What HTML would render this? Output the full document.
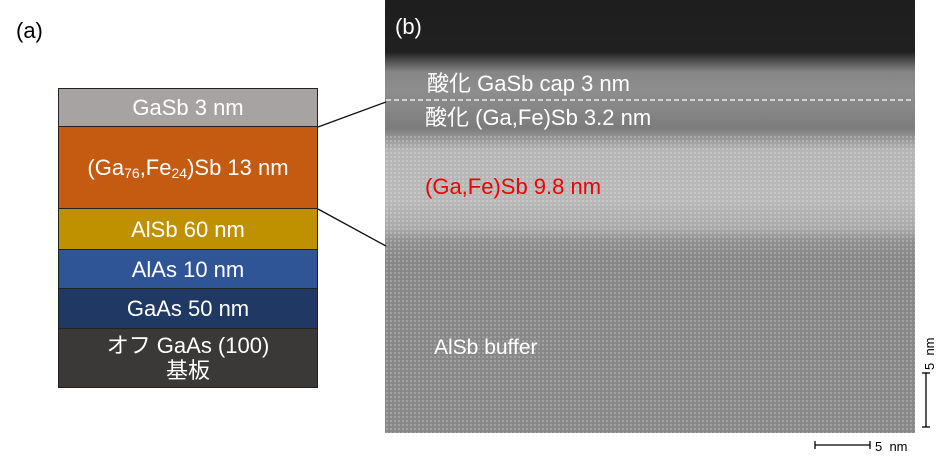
<!DOCTYPE html>
<html><head><meta charset="utf-8"><style>
body{margin:0;width:942px;height:458px;background:#fff;position:relative;overflow:hidden;font-family:"Liberation Sans","Noto Sans CJK JP",sans-serif}
.a{position:absolute;white-space:nowrap}
.l{position:absolute;left:58px;width:260px;box-sizing:border-box;border:1px solid #222;color:#fff;font-size:22px;text-align:center;display:flex;align-items:center;justify-content:center;line-height:25px}
.s{font-size:14px;position:relative;top:6px}
#img{position:absolute;left:385px;top:0;width:530px;height:433px;
background:linear-gradient(to bottom,#1e1e1e 0,#202020 52px,#555 62px,#858585 72px,#8e8e8e 90px,#868686 110px,#7c7c7c 128px,#9a9a9a 140px,#b5b5b5 150px,#b8b8b8 200px,#aaa 228px,#8f8f8f 242px,#878787 260px,#888 433px);overflow:hidden}
#lat{position:absolute;left:0;top:135px;width:530px;height:298px;opacity:.25;
background-image:radial-gradient(circle,#fff 0.9px,transparent 1.3px);background-size:4px 4px}
.w{color:#fff;font-size:22px;line-height:26px}
</style></head><body>
<div class="a" style="left:16px;top:18px;font-size:22px">(a)</div>
<div class="l" style="top:88px;height:39px;background:#a7a3a3">GaSb 3 nm</div>
<div class="l" style="top:126px;height:83px;background:#c55a11">(Ga<span class="s">76</span>,Fe<span class="s">24</span>)Sb 13 nm</div>
<div class="l" style="top:208px;height:42px;background:#bf9000">AlSb 60 nm</div>
<div class="l" style="top:249px;height:40px;background:#2f5597">AlAs 10 nm</div>
<div class="l" style="top:288px;height:41px;background:#1f3864">GaAs 50 nm</div>
<div class="l" style="top:328px;height:60px;background:#3b3838;flex-direction:column">オフ GaAs (100)<br>基板</div>
<div id="img"><div id="lat"></div></div>
<svg class="a" style="left:0;top:0" width="942" height="458">
<line x1="318" y1="127" x2="386" y2="102" stroke="#111" stroke-width="1.3"/>
<line x1="318" y1="209" x2="386" y2="246" stroke="#111" stroke-width="1.3"/>
<line x1="386" y1="100" x2="912" y2="100" stroke="#fff" stroke-width="1.2" stroke-dasharray="5,3"/>
<line x1="926" y1="373" x2="926" y2="427" stroke="#000" stroke-width="1.3"/>
<line x1="922" y1="373" x2="930" y2="373" stroke="#000" stroke-width="1.3"/>
<line x1="922" y1="427" x2="930" y2="427" stroke="#000" stroke-width="1.3"/>
<line x1="815" y1="445" x2="870" y2="445" stroke="#000" stroke-width="1.3"/>
<line x1="815" y1="441" x2="815" y2="449" stroke="#000" stroke-width="1.3"/>
<line x1="870" y1="441" x2="870" y2="449" stroke="#000" stroke-width="1.3"/>
<text x="875" y="451" font-size="13" font-family="Liberation Sans" xml:space="preserve">5  nm</text>
<text transform="translate(934,370) rotate(-90)" font-size="13" font-family="Liberation Sans" xml:space="preserve">5  nm</text>
</svg>
<div class="a w" style="left:395px;top:14px">(b)</div>
<div class="a w" style="left:427px;top:71px">酸化 GaSb cap 3 nm</div>
<div class="a w" style="left:425px;top:105px">酸化 (Ga,Fe)Sb 3.2 nm</div>
<div class="a w" style="left:425px;top:174px;color:#e00">(Ga,Fe)Sb 9.8 nm</div>
<div class="a w" style="left:434px;top:335px;font-size:21px">AlSb buffer</div>
</body></html>
